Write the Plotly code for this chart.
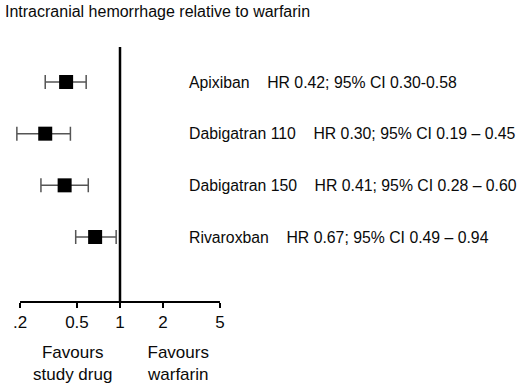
import plotly.graph_objects as go

# ---- data ----
title_text = "Intracranial hemorrhage relative to warfarin"
drugs = ["Apixiban", "Dabigatran 110", "Dabigatran 150", "Rivaroxban"]
hr = [0.42, 0.30, 0.41, 0.67]
ci_low = [0.30, 0.19, 0.28, 0.49]
ci_high = [0.58, 0.45, 0.60, 0.94]
ci_sep = ["-", " \u2013 ", " \u2013 ", " \u2013 "]
tick_vals = [0.2, 0.5, 1, 2, 5]
tick_text = [".2", "0.5", "1", "2", "5"]
favour_left = "Favours<br>study drug"
favour_right = "Favours<br>warfarin"

FONT = "Liberation Sans, Arial, sans-serif"
TXT = "#0a0a0a"
rows = list(range(len(drugs)))

fig = go.Figure()
fig.add_trace(go.Scatter(
    x=hr, y=rows, mode="markers",
    marker=dict(symbol="square", size=14, color="black"),
    error_x=dict(type="data", symmetric=False,
                 array=[h - v for h, v in zip(ci_high, hr)],
                 arrayminus=[v - l for v, l in zip(hr, ci_low)],
                 color="#555555", thickness=1.5, width=7),
    hoverinfo="skip", showlegend=False, cliponaxis=False,
))

annotations = []
for i, (d, v, l, h, s) in enumerate(zip(drugs, hr, ci_low, ci_high, ci_sep)):
    annotations.append(dict(
        text=f"{d}\u00a0\u00a0\u00a0\u00a0HR {v:.2f}; 95% CI {l:.2f}{s}{h:.2f}",
        xref="paper", yref="y", x=187 / 520, y=i, xanchor="left", yanchor="middle",
        showarrow=False, font=dict(family=FONT, size=15.8, color=TXT),
    ))
annotations.append(dict(text=title_text, xref="paper", yref="paper", x=3 / 520, y=(302 - 11) / 262,
                        xanchor="left", yanchor="middle", showarrow=False,
                        font=dict(family=FONT, size=16, color=TXT)))
annotations.append(dict(text=favour_left, xref="paper", yref="paper", x=72 / 520, y=(302 - 363.5) / 262,
                        xanchor="center", yanchor="middle", align="center", showarrow=False,
                        font=dict(family=FONT, size=17, color=TXT)))
annotations.append(dict(text=favour_right, xref="paper", yref="paper", x=178 / 520, y=(302 - 363.5) / 262,
                        xanchor="center", yanchor="middle", align="center", showarrow=False,
                        font=dict(family=FONT, size=17, color=TXT)))

shapes = [
    dict(type="line", xref="x", yref="paper", x0=1, x1=1, y0=0, y1=(302 - 47) / 262,
         line=dict(color="black", width=2.5), layer="below"),
    dict(type="line", xref="x", yref="paper", x0=tick_vals[0], x1=tick_vals[-1], y0=0, y1=0,
         line=dict(color="black", width=2)),
]

fig.update_layout(
    width=520, height=388,
    margin=dict(l=0, r=0, t=40, b=86),
    paper_bgcolor="white", plot_bgcolor="white",
    font=dict(family=FONT, size=16, color=TXT),
    xaxis=dict(type="log", range=[-120 / 143, 400 / 143], automargin=False,
               tickvals=tick_vals, ticktext=tick_text,
               ticks="outside", ticklen=5, tickwidth=2, tickcolor="black",
               showgrid=False, zeroline=False, showline=False,
               tickfont=dict(family=FONT, size=17, color=TXT)),
    yaxis=dict(range=[4.258, -0.813], visible=False, automargin=False),
    annotations=annotations, shapes=shapes,
)

fig.write_html("out.html", config={"displayModeBar": False},
               post_script="document.body.style.margin='0';")
